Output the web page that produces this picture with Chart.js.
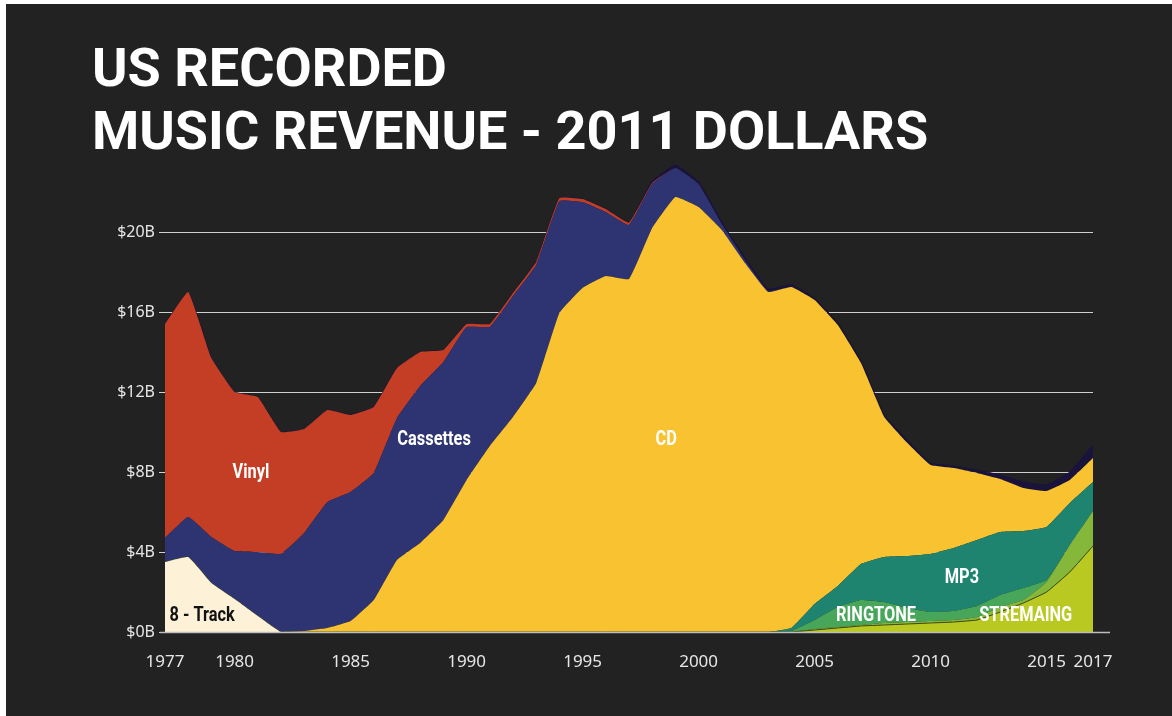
<!DOCTYPE html>
<html>
<head>
<meta charset="utf-8">
<title>US Recorded Music Revenue</title>
<script src="https://cdn.jsdelivr.net/npm/chart.js@4"></script>
<style>
  html, body { margin: 0; padding: 0; background: #ffffff; }
  body { width: 1172px; height: 716px; position: relative; overflow: hidden; }
  .panel { position: absolute; left: 6px; top: 4px; right: 0; bottom: 0; background: #222222; }
  h1 {
    position: absolute; left: 92px; top: 36px; margin: 0;
    font: bold 54px/63px Roboto, "DejaVu Sans", sans-serif;
    color: #ffffff; white-space: nowrap;
  }
  #chart { position: absolute; left: 0; top: 0; }
</style>
</head>
<body>
<div class="panel"></div>
<h1>US RECORDED<br>MUSIC REVENUE - 2011 DOLLARS</h1>
<canvas id="chart" width="1172" height="716"></canvas>
<script>
// ===== Data (billions, 2011 dollars) =====
const years = [1977, 1978, 1979, 1980, 1981, 1982, 1983, 1984, 1985, 1986,
  1987, 1988, 1989, 1990, 1991, 1992, 1993, 1994, 1995, 1996,
  1997, 1998, 1999, 2000, 2001, 2002, 2003, 2004, 2005, 2006,
  2007, 2008, 2009, 2010, 2011, 2012, 2013, 2014, 2015, 2016, 2017];

const eightTrack = [3.5, 3.75, 2.45, 1.65, 0.8, 0, 0, 0, 0, 0,
  0, 0, 0, 0, 0, 0, 0, 0, 0, 0,
  0, 0, 0, 0, 0, 0, 0, 0, 0, 0,
  0, 0, 0, 0, 0, 0, 0, 0, 0, 0, 0];

const streaming = [0, 0, 0, 0, 0, 0, 0, 0, 0, 0,
  0, 0, 0, 0, 0, 0, 0, 0, 0, 0,
  0, 0, 0, 0, 0, 0, 0, 0, 0.1, 0.2,
  0.3, 0.35, 0.4, 0.45, 0.5, 0.6, 1.0, 1.45, 2.0, 3.0, 4.3];

const otherDigital = [0, 0, 0, 0, 0, 0, 0, 0, 0, 0,
  0, 0, 0, 0, 0, 0, 0, 0, 0, 0,
  0, 0, 0, 0, 0, 0, 0, 0, 0.05, 0.05,
  0.05, 0.1, 0.1, 0.1, 0.1, 0.15, 0.25, 0.15, 0.5, 1.35, 1.75];

const ringtone = [0, 0, 0, 0, 0, 0, 0, 0, 0, 0,
  0, 0, 0, 0, 0, 0, 0, 0, 0, 0,
  0, 0, 0, 0, 0, 0, 0, 0.05, 0.45, 1.0,
  1.25, 1.05, 0.7, 0.45, 0.45, 0.55, 0.6, 0.6, 0.1, 0, 0];

const mp3 = [0, 0, 0, 0, 0, 0, 0, 0, 0, 0,
  0, 0, 0, 0, 0, 0, 0, 0, 0, 0,
  0, 0, 0, 0, 0, 0, 0, 0.15, 0.8, 1.05,
  1.8, 2.25, 2.6, 2.9, 3.15, 3.3, 3.15, 2.85, 2.65, 2.1, 1.45];

const cd = [0, 0, 0, 0, 0, 0, 0.05, 0.2, 0.55, 1.6,
  3.6, 4.45, 5.6, 7.6, 9.3, 10.75, 12.45, 15.95, 17.2, 17.8,
  17.65, 20.2, 21.75, 21.25, 20.1, 18.45, 17.0, 17.05, 15.2, 13.05,
  10.05, 7.0, 5.65, 4.45, 4.0, 3.35, 2.65, 2.15, 1.8, 1.15, 1.2];

const cassettes = [1.2, 2.0, 2.3, 2.4, 3.2, 3.9, 4.9, 6.3, 6.45, 6.35,
  7.1, 7.85, 7.9, 7.65, 5.95, 6.05, 5.9, 5.6, 4.3, 3.2,
  2.7, 2.2, 1.45, 1.15, 0.3, 0.15, 0.05, 0, 0, 0,
  0, 0, 0, 0, 0, 0, 0, 0, 0, 0, 0];

const vinyl = [10.7, 11.25, 8.95, 7.95, 7.75, 6.1, 5.2, 4.6, 3.85, 3.3,
  2.5, 1.7, 0.6, 0.15, 0.15, 0.15, 0.15, 0.15, 0.15, 0.15,
  0.12, 0.05, 0, 0, 0, 0, 0, 0, 0, 0,
  0, 0, 0, 0, 0, 0, 0, 0, 0, 0, 0];

const other = [0, 0, 0, 0, 0, 0, 0, 0, 0, 0,
  0, 0, 0, 0, 0, 0, 0, 0, 0, 0,
  0, 0.1, 0.15, 0.12, 0.1, 0.1, 0.1, 0.12, 0.1, 0.1,
  0.1, 0.1, 0.15, 0.1, 0.1, 0.15, 0.2, 0.3, 0.3, 0.4, 0.65];

const xTicks = [1977, 1980, 1985, 1990, 1995, 2000, 2005, 2010, 2015, 2017];
const yTicks = [0, 4, 8, 12, 16, 20];

// text placed inside the bands: [text, year, value, colour]
const bandLabels = [
  ["Vinyl", 1980.7, 7.95, "#ffffff"],
  ["Cassettes", 1988.6, 9.6, "#ffffff"],
  ["CD", 1998.6, 9.6, "#ffffff"],
  ["8 - Track", 1978.6, 0.8, "#111111"],
  ["MP3", 2011.35, 2.7, "#ffffff"],
  ["RINGTONE", 2007.65, 0.8, "#ffffff"],
  ["STREMAING", 2014.1, 0.8, "#ffffff"]
];

// ===== Build datasets =====
function series(label, values, color, extra) {
  return Object.assign({
    label: label,
    data: values.map((v, i) => ({ x: years[i], y: v })),
    backgroundColor: color,
    borderColor: color,
    borderWidth: 0,
    pointRadius: 0,
    fill: "-1",
    tension: 0.1
  }, extra || {});
}

const datasets = [
  series("8 - Track", eightTrack, "#fdf1d8", { fill: "origin" }),
  series("Streaming", streaming, "#b9c921", { borderWidth: 1, borderColor: "#3d4a1c" }),
  series("Other digital", otherDigital, "#85b83a"),
  series("Ringtone", ringtone, "#48a65b"),
  series("MP3", mp3, "#1e8470"),
  series("CD", cd, "#f8c230"),
  series("Cassettes", cassettes, "#2e3371"),
  series("Vinyl", vinyl, "#c43e25"),
  series("Other", other, "#1a133c", { borderWidth: 1 })
];

// ===== Plugins =====
const bandText = {
  id: "bandText",
  afterDatasetsDraw(chart) {
    const { ctx, scales } = chart;
    ctx.save();
    ctx.font = "bold 21px Roboto, 'DejaVu Sans', sans-serif";
    ctx.textAlign = "center";
    ctx.textBaseline = "middle";
    bandLabels.forEach(([text, yr, val, color]) => {
      const px = scales.x.getPixelForValue(yr);
      const py = scales.y.getPixelForValue(val);
      ctx.save();
      ctx.translate(px, py);
      ctx.scale(0.78, 1);
      ctx.fillStyle = color;
      ctx.fillText(text, 0, 0);
      ctx.restore();
    });
    ctx.restore();
  }
};

const baseLine = {
  id: "baseLine",
  afterDatasetsDraw(chart) {
    const { ctx, chartArea } = chart;
    ctx.save();
    ctx.strokeStyle = "#bdbdbd";
    ctx.lineWidth = 1.5;
    ctx.beginPath();
    ctx.moveTo(chartArea.left - 5, chartArea.bottom + 0.5);
    ctx.lineTo(chartArea.right + 17, chartArea.bottom + 0.5);
    ctx.stroke();
    ctx.restore();
  }
};

// ===== Chart =====
new Chart(document.getElementById("chart"), {
  type: "line",
  data: { datasets: datasets },
  options: {
    responsive: false,
    animation: false,
    layout: { padding: { top: 152, right: 79, bottom: 0, left: 0 } },
    plugins: {
      legend: { display: false },
      tooltip: { enabled: false }
    },
    scales: {
      x: {
        type: "linear",
        min: 1977,
        max: 2017,
        afterBuildTicks: (s) => { s.ticks = xTicks.map(v => ({ value: v })); },
        afterFit: (s) => { s.height = 84; },
        grid: { display: false },
        border: { display: false },
        ticks: {
          autoSkip: false,
          maxRotation: 0,
          padding: 12,
          color: "#e6e6e6",
          font: { family: "'Noto Sans', sans-serif", size: 17 },
          callback: (v) => String(v)
        }
      },
      y: {
        stacked: true,
        min: 0,
        max: 24,
        afterBuildTicks: (s) => { s.ticks = yTicks.map(v => ({ value: v })); },
        afterFit: (s) => { s.width = 165; },
        grid: { color: "#cfcfcf", lineWidth: 1, tickLength: 6 },
        border: { display: false },
        ticks: {
          padding: 4,
          color: "#e6e6e6",
          font: { family: "'Noto Sans', sans-serif", size: 16 },
          callback: (v) => "$" + v + "B"
        }
      }
    }
  },
  plugins: [bandText, baseLine]
});
</script>
</body>
</html>
